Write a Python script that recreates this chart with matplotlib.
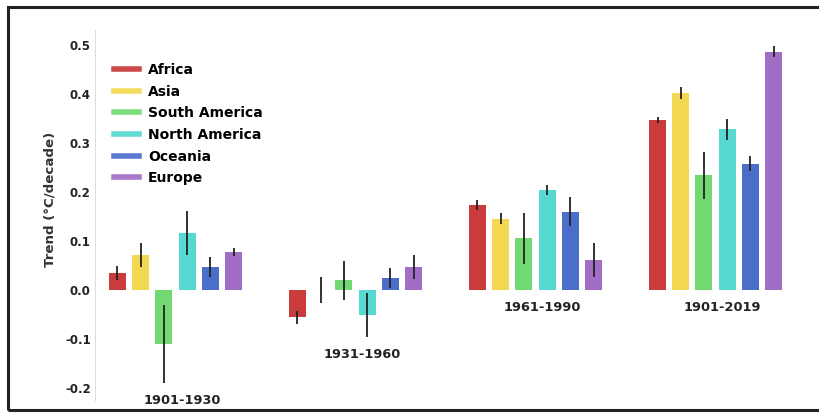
import numpy as np
import matplotlib
matplotlib.use('Agg')
import matplotlib.pyplot as plt
from matplotlib.patches import Rectangle

plt.rcParams['font.family'] = ['DejaVu Sans']

continents = ['Africa', 'Asia', 'South America', 'North America', 'Oceania', 'Europe']
colors = ['#c62a2a', '#f2d642', '#66d666', '#46d6cc', '#3a62c6', '#9a62c0']
periods = ['1901-1930', '1931-1960', '1961-1990', '1901-2019']

# trend per continent for each period, °C/decade
trend_1901_1930 = [0.035, 0.072, -0.110, 0.117, 0.047, 0.078]
trend_1931_1960 = [-0.056, 0.0, 0.020, -0.050, 0.025, 0.047]
trend_1961_1990 = [0.173, 0.146, 0.106, 0.205, 0.160, 0.061]
trend_1901_2019 = [0.347, 0.402, 0.234, 0.328, 0.258, 0.487]

err_1901_1930 = [0.015, 0.025, 0.080, 0.045, 0.020, 0.008]
err_1931_1960 = [0.014, 0.027, 0.040, 0.045, 0.020, 0.025]
err_1961_1990 = [0.010, 0.011, 0.052, 0.010, 0.030, 0.035]
err_1901_2019 = [0.006, 0.012, 0.048, 0.022, 0.015, 0.012]

trends = np.array([trend_1901_1930, trend_1931_1960, trend_1961_1990, trend_1901_2019])
errs = np.array([err_1901_1930, err_1931_1960, err_1961_1990, err_1901_2019])

fig = plt.figure(figsize=(8.2, 4.13), dpi=100)
ax = fig.add_axes([95 / 820, 13 / 413, 705 / 820, 370 / 413])

step = 0.129
width = 0.094
group_x = np.arange(len(periods))
for i, name in enumerate(continents):
    xs = group_x + (i - 2.5) * step
    ax.bar(xs, trends[:, i], width=width, color=colors[i], linewidth=0,
           alpha=0.92, label=name, zorder=2)
    ax.errorbar(xs, trends[:, i], yerr=errs[:, i], fmt='none', ecolor='#222222',
                elinewidth=1.3, capsize=0, zorder=3)

# period names sit under the lowest error bar of each group
for g, period in enumerate(periods):
    low = min(0, (trends[g] - errs[g]).min())
    ax.text(group_x[g] + 0.035, low - 0.036, period, ha='center', va='center',
            fontsize=9.3, fontweight='bold', color='#222222', clip_on=False)

ax.set_xlim(-0.447, 3.469)
ax.set_ylim(-0.2245, 0.531)
ax.set_xticks([])
yt = np.round(np.arange(-0.2, 0.51, 0.1), 1)
ax.set_yticks(yt)
ax.set_yticklabels(['%.1f' % abs(v) if v == 0 else '%.1f' % v for v in yt],
                   fontsize=8.5, fontweight='bold', color='#222222')
ax.tick_params(axis='y', length=0, pad=3)
ax.set_ylabel('Trend (°C/decade)', fontsize=9.6, fontweight='bold', color='#333333')
ax.yaxis.set_label_coords(-0.055, 0.543)
for side in ['top', 'right', 'bottom']:
    ax.spines[side].set_visible(False)
ax.spines['left'].set_color('#dddddd')
ax.spines['left'].set_linewidth(0.8)

handles = [plt.Line2D([], [], color=c, linewidth=4, alpha=0.85) for c in colors]
fig.legend(handles, continents, loc='upper left', bbox_to_anchor=(114 / 820, 1 - 63 / 413),
           frameon=False, prop={'weight': 'bold', 'size': 10},
           handlelength=1.8, handletextpad=0.65, labelspacing=0.55,
           borderpad=0, borderaxespad=0)

# outer frame
fig.patches.append(Rectangle((8 / 820, 3 / 413), 1.2, 1 - 10 / 413, transform=fig.transFigure,
                             fill=False, edgecolor='#222222', linewidth=2.2))

fig.savefig('out.png', dpi=100)
